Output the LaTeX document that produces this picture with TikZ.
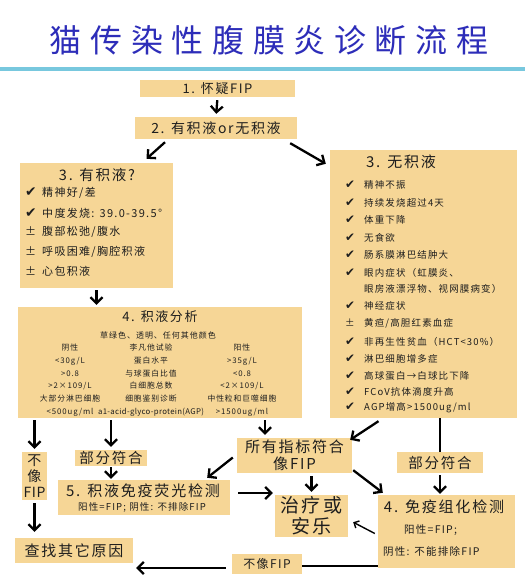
\documentclass[tikz,border=0pt]{standalone}
\usepackage{fontspec}
\setmainfont{Noto Sans CJK SC}[LetterSpace=12]
\newfontfamily\titlefont{Noto Sans CJK SC}[LetterSpace=27]
\newfontfamily\plainfont{Noto Sans CJK SC}[LetterSpace=4]
\newfontfamily\dvfont{DejaVu Sans}[Scale=1.25]
\usetikzlibrary{arrows.meta}
\definecolor{boxfill}{RGB}{246,214,150}
\definecolor{titleblue}{RGB}{45,45,185}
\definecolor{rulecol}{RGB}{120,200,222}
\definecolor{txt}{RGB}{30,30,30}
\newcommand\myfs[1]{\fontsize{#1}{#1}\selectfont}
\newcommand\mychk[1]{\makebox[#1][l]{{\dvfont\char"2714}}}
\newcommand\mypm[1]{\makebox[#1][l]{±}}
\begin{document}
\begin{tikzpicture}[x=1pt,y=-1pt,
  box/.style={fill=boxfill, draw=none, inner sep=0pt, text=txt, align=center},
  lbl/.style={inner sep=0pt, text=txt},
  arr/.style={-{Straight Barb[length=6pt,width=12pt]}, line width=2.3pt, black},
  thinarr/.style={-{Straight Barb[length=4pt,width=8pt]}, line width=1.4pt, black},
  bar/.style={line width=2.8pt, black}]
\useasboundingbox (0,0) rectangle (525,583);
\fill[white] (0,0) rectangle (525,583);
% title and rule
\node[inner sep=0pt, text=titleblue] (title) at (269,40) {\titlefont\myfs{32}猫传染性腹膜炎诊断流程};
\coordinate (rl) at (0,69);
\coordinate (rr) at (525,69);
\draw[rulecol, line width=3.5pt] (rl) -- (rr);
% boxes
\node[box, minimum width=155, minimum height=17, font=\myfs{13}] (b1) at (217.5,88.5) {1. 怀疑FIP};
\node[box, minimum width=162, minimum height=22, font=\myfs{14}] (b2) at (216,128) {2. 有积液or无积液};
\node[box, minimum width=153, minimum height=125] (b3L) at (96.5,225.5) {};
\node[box, minimum width=187, minimum height=268] (b3R) at (423.5,284) {};
\node[box, minimum width=284, minimum height=111] (b4) at (160,362.5) {};
\node[box, minimum width=25, minimum height=48, font=\fontsize{14}{16}\selectfont] (bNot1) at (34.5,476) {不\\像\\{\plainfont FIP}};
\node[box, minimum width=72, minimum height=16, font=\myfs{14.5}] (bPart1) at (111,458) {部分符合};
\node[box, minimum width=172, minimum height=35] (b5) at (144,497.5) {};
\node[box, minimum width=118, minimum height=25, font=\myfs{15}] (bFind) at (74,550.5) {查找其它原因};
\node[box, minimum width=115, minimum height=35, font=\fontsize{15}{16.5}\selectfont] (bAll) at (294.5,455.5) {所有指标符合\\像FIP};
\node[box, minimum width=73, minimum height=42, font=\fontsize{19}{21}\selectfont] (bTreat) at (311.5,516) {治疗或\\安乐};
\node[box, minimum width=86, minimum height=21, font=\myfs{14.5}] (bPart2) at (440,462.5) {部分符合};
\node[box, minimum width=137, minimum height=73] (bIHC) at (446.5,531.5) {};
\node[box, minimum width=70, minimum height=20, font=\myfs{12}] (bNot2) at (267,564) {不像FIP};
% box 3 left
\node[lbl, font=\myfs{14.5}] (t3L) at (97,175) {3. 有积液?};
\foreach \y/\m/\t [count=\i] in {193/c/{精神好/差}, 213/c/{中度发烧: 39.0-39.5°}, 232/p/{腹部松弛/腹水}, 252/p/{呼吸困难/胸腔积液}, 271/p/{心包积液}}{
  \node[lbl, anchor=west, font=\myfs{11}] (l3L\i) at (25,\y) {\if c\m\mychk{17pt}\else\mypm{17pt}\fi\t};
}
% box 3 right
\node[lbl, font=\myfs{15}] (t3R) at (401,162) {3. 无积液};
\foreach \y/\m/\t [count=\i] in {185/c/{精神不振}, 203/c/{持续发烧超过4天}, 220/c/{体重下降}, 238/c/{无食欲}, 255/c/{肠系膜淋巴结肿大}, 273/c/{眼内症状（虹膜炎、}, 289/n/{眼房液漂浮物、视网膜病变）}, 306/c/{神经症状}, 323/p/{黄疸/高胆红素血症}, 342/c/{非再生性贫血（HCT<30\%）}, 359/c/{淋巴细胞增多症}, 376/c/{高球蛋白→白球比下降}, 392/c/{FCoV抗体滴度升高}, 408/c/{AGP增高>1500ug/ml}}{
  \node[lbl, anchor=west, font=\myfs{9.5}] (l3R\i) at (345,\y) {\if c\m\mychk{19pt}\else\if p\m\mypm{19pt}\else\hspace*{19pt}\fi\fi\t};
}
% box 4
\node[lbl, font=\myfs{13}] (t4) at (160,317) {4. 积液分析};
\node[lbl, font=\myfs{8}] (t4a) at (158,335) {草绿色、透明、任何其他颜色};
\foreach \y/\a/\b/\c [count=\i] in {348/{阴性}/{李凡他试验}/{阳性}, 361/{<30g/L}/{蛋白水平}/{>35g/L}, 374/{>0.8}/{与球蛋白比值}/{<0.8}, 386/{>2×109/L}/{白细胞总数}/{<2×109/L}, 399/{大部分淋巴细胞}/{细胞鉴别诊断}/{中性粒和巨噬细胞}, 412/{<500ug/ml}/{{\plainfont a1-acid-glyco-protein(AGP)}}/{>1500ug/ml}}{
  \node[lbl, font=\myfs{7.8}] (ta\i) at (70,\y) {\a};
  \node[lbl, font=\myfs{7.8}] (tb\i) at (151,\y) {\b};
  \node[lbl, font=\myfs{7.8}] (tc\i) at (242,\y) {\c};
}
% box 5
\node[lbl, font=\myfs{15}] (t5) at (143,491) {5. 积液免疫荧光检测};
\node[lbl, font=\myfs{9.5}] (t5s) at (142,507) {阳性=FIP; 阴性: 不排除FIP};
% IHC box
\node[lbl, font=\myfs{15}] (tI) at (444,507) {4. 免疫组化检测};
\node[lbl, anchor=west, font=\myfs{10.5}] (tI1) at (404,530) {阳性=FIP;};
\node[lbl, anchor=west, font=\myfs{10.5}] (tI2) at (383,552) {阴性: 不能排除FIP};
% connectors
\draw[arr, shorten <=3pt, shorten >=3pt] (b1.south) -- (b2.north);
\draw[arr] ([shift={(-51,3)}]b2.south) -- ([shift={(50,-4)}]b3L.north);
\draw[arr] ([shift={(-7,4)}]b2.south east) -- ([shift={(-4,14)}]b3R.north west);
\draw[arr, shorten <=2pt, shorten >=2pt] (b3L.south) -- (b3L.south |- b4.north);
\draw[arr, shorten <=2pt, shorten >=3pt] (bNot1.north |- b4.south) -- (bNot1.north);
\draw[arr, shorten <=3pt, shorten >=6pt] (bNot1.south) -- (bNot1.south |- bFind.north);
\draw[arr, shorten <=2pt, shorten >=3pt] (bPart1.north |- b4.south) -- (bPart1.north);
\draw[arr, shorten <=1pt, shorten >=1pt] (bPart1.south) -- (bPart1.south |- b5.north);
\draw[arr, shorten <=2pt, shorten >=3pt] ([xshift=-29.5]bAll.north |- b4.south) -- ([xshift=-29.5]bAll.north);
\draw[arr] ([shift={(-45,3)}]b3R.south) -- ([shift={(-2,2)}]bAll.north east);
\draw[arr] ([shift={(-4,2)}]bAll.west) -- ([shift={(-23,-2)}]b5.north east);
\draw[arr, shorten <=3pt, shorten >=3pt] (bTreat.north |- bAll.south) -- (bTreat.north);
\draw[arr] ([shift={(1,-3)}]bAll.south east) -- ([shift={(5,-2)}]bIHC.north west);
\draw[arr, shorten <=8pt, shorten >=2pt] ([yshift=4.5]b5.east) -- ([yshift=4.5]b5.east -| bTreat.west);
\draw[thinarr] ([shift={(-3,2)}]bIHC.west) -- ([shift={(5,-15)}]bTreat.south east);
\draw[bar] (bPart2.north |- b3R.south) -- (bPart2.north);
\draw[arr, shorten <=2pt, shorten >=1pt] (bPart2.south) -- (bPart2.south |- bIHC.north);
\draw[arr, shorten <=6pt, shorten >=3pt] ([yshift=-4]bNot2.west) -- ([yshift=-4]bNot2.west -| bFind.east);
\draw[bar] ([yshift=-2]bNot2.east) -- ([yshift=-2]bNot2.east -| bIHC.west);
\end{tikzpicture}
\end{document}
